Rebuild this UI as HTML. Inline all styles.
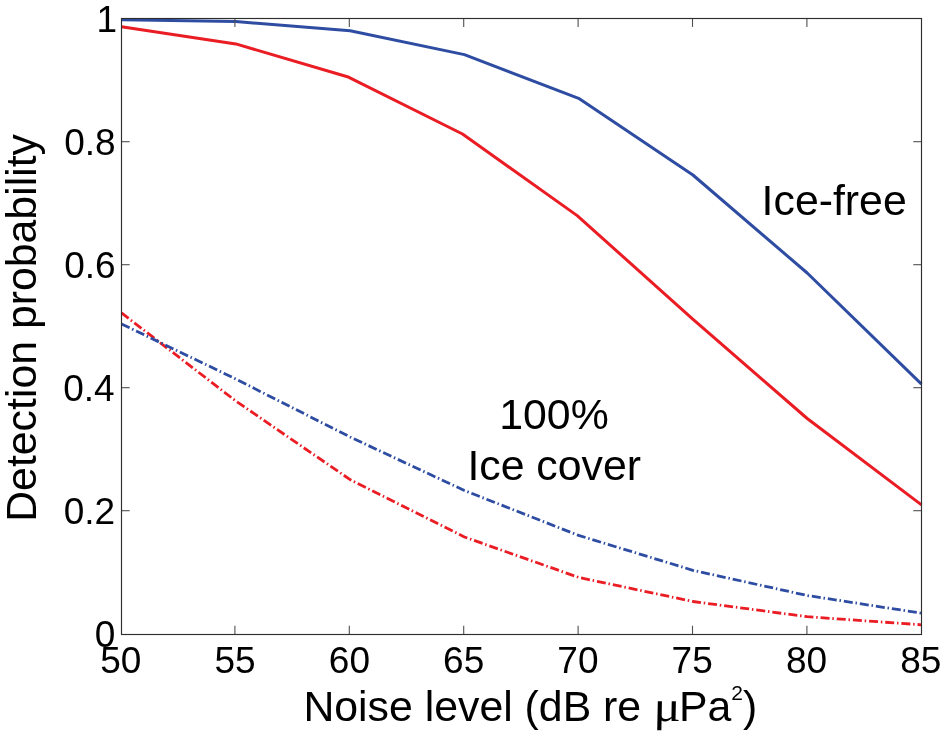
<!DOCTYPE html>
<html><head><meta charset="utf-8"><title>Detection probability vs noise level</title>
<style>
html,body{margin:0;padding:0;background:#fff;}
svg{display:block;}
text{font-family:"Liberation Sans",sans-serif;fill:#000;}
.tk text{font-size:37px;}
.lb{font-size:42.8px;}
</style></head><body>
<svg width="944" height="737" viewBox="0 0 944 737">
<rect width="944" height="737" fill="#fff"/>
<g fill="none" stroke-width="3" stroke-linejoin="round">
<polyline stroke="#ea1c24" stroke-width="2.8" stroke-dasharray="9 2.8 1.5 2.9" points="121.5,312.9 235.8,401.0 350.1,479.6 464.4,537.0 578.6,577.4 692.9,601.5 807.2,616.7 921.5,624.8"/>
<polyline stroke="#2e4da2" stroke-width="2.8" stroke-dasharray="9 2.8 1.5 2.9" points="121.5,323.9 235.8,379.0 350.1,437.0 464.4,490.5 578.6,535.4 692.9,570.3 807.2,595.5 921.5,613.2"/>
<polyline stroke="#ea1c24" points="121.5,26.7 235.8,43.9 347.4,76.7 462.5,134.0 577.2,215.6 692.2,318.6 807.2,418.5 921.5,504.9"/>
<polyline stroke="#2e4da2" points="121.5,19.8 235.8,21.6 350.1,30.7 464.4,54.6 578.6,98.3 692.9,175.0 807.2,273.0 921.5,384.2"/>
</g>
<g stroke="#505050" stroke-width="1.1" fill="none">
<line x1="234.9" y1="634.5" x2="234.9" y2="625.7"/><line x1="234.9" y1="18.5" x2="234.9" y2="26.9"/><line x1="349.3" y1="634.5" x2="349.3" y2="625.7"/><line x1="349.3" y1="18.5" x2="349.3" y2="26.9"/><line x1="463.7" y1="634.5" x2="463.7" y2="625.7"/><line x1="463.7" y1="18.5" x2="463.7" y2="26.9"/><line x1="578.1" y1="634.5" x2="578.1" y2="625.7"/><line x1="578.1" y1="18.5" x2="578.1" y2="26.9"/><line x1="692.5" y1="634.5" x2="692.5" y2="625.7"/><line x1="692.5" y1="18.5" x2="692.5" y2="26.9"/><line x1="806.9" y1="634.5" x2="806.9" y2="625.7"/><line x1="806.9" y1="18.5" x2="806.9" y2="26.9"/><line x1="121.5" y1="141.7" x2="129.7" y2="141.7"/><line x1="921.5" y1="141.7" x2="913.3" y2="141.7"/><line x1="121.5" y1="264.7" x2="129.7" y2="264.7"/><line x1="921.5" y1="264.7" x2="913.3" y2="264.7"/><line x1="121.5" y1="387.7" x2="129.7" y2="387.7"/><line x1="921.5" y1="387.7" x2="913.3" y2="387.7"/><line x1="121.5" y1="510.7" x2="129.7" y2="510.7"/><line x1="921.5" y1="510.7" x2="913.3" y2="510.7"/>
</g>
<rect x="121.5" y="18.5" width="800.0" height="616.0" stroke="#2e2e2e" stroke-width="1.15" fill="none"/>
<g class="tk"><text x="120.8" y="673.3" text-anchor="middle">50</text><text x="235.1" y="673.3" text-anchor="middle">55</text><text x="349.4" y="673.3" text-anchor="middle">60</text><text x="463.7" y="673.3" text-anchor="middle">65</text><text x="577.9" y="673.3" text-anchor="middle">70</text><text x="692.2" y="673.3" text-anchor="middle">75</text><text x="806.5" y="673.3" text-anchor="middle">80</text><text x="920.8" y="673.3" text-anchor="middle">85</text><text x="117.2" y="31.7" text-anchor="end">1</text><text x="115.6" y="154.7" text-anchor="end">0.8</text><text x="115.6" y="277.7" text-anchor="end">0.6</text><text x="114.6" y="400.7" text-anchor="end">0.4</text><text x="115.2" y="523.7" text-anchor="end">0.2</text><text x="115.4" y="647.0" text-anchor="end">0</text></g>
<text class="lb" x="761.6" y="214.7">Ice-free</text>
<text class="lb" x="554" y="428.8" text-anchor="middle">100%</text>
<text class="lb" x="554.2" y="479.9" text-anchor="middle">Ice cover</text>
<text class="lb" x="303.4" y="721.4" xml:space="preserve">Noise level (dB re </text>
<text transform="translate(655.4,721.4) scale(1.2,1) skewX(9)" font-size="43px" style="font-family:'Liberation Serif',serif;font-style:italic">μ</text>
<text class="lb" x="679" y="721.4">Pa<tspan font-size="21px" dy="-21.7">2</tspan><tspan dy="21.7">)</tspan></text>
<text class="lb" transform="translate(36.0,521.8) rotate(-90)">Detection probability</text>
</svg>
</body></html>
